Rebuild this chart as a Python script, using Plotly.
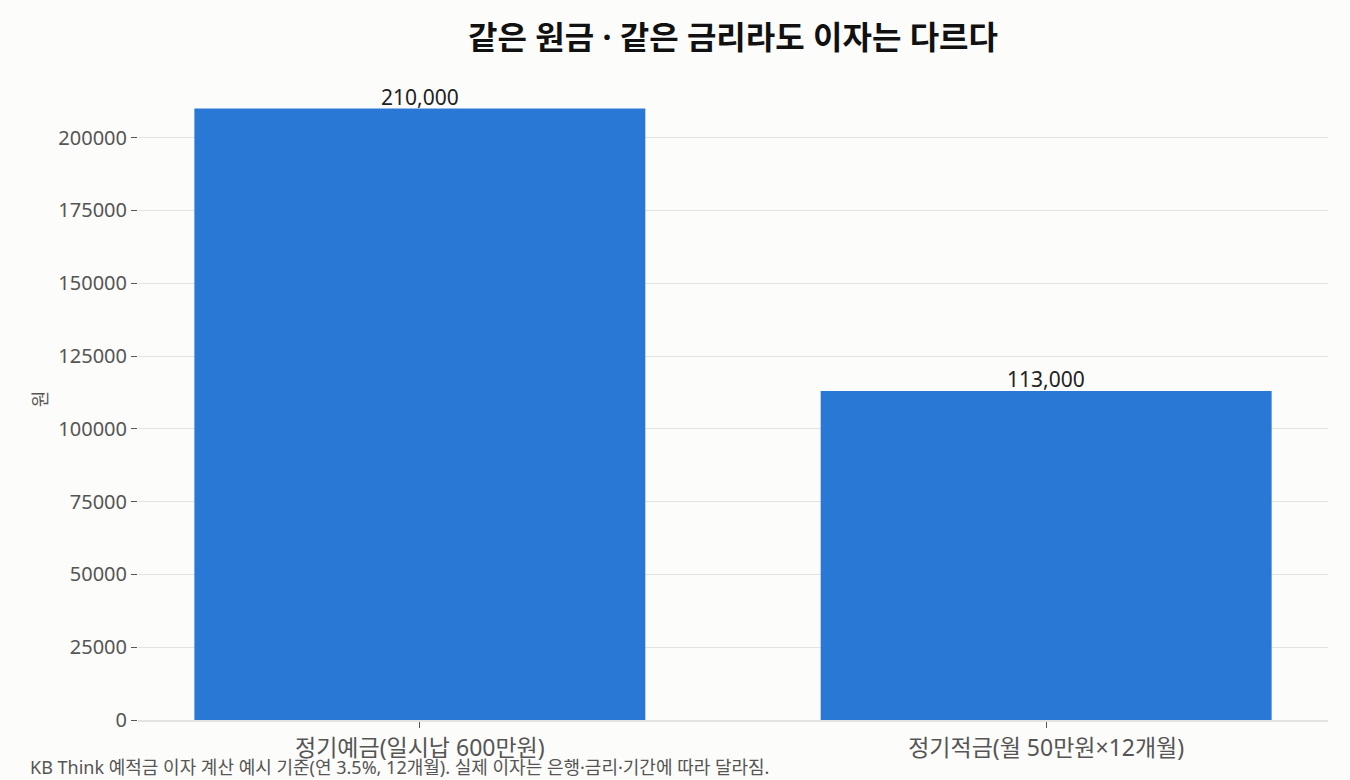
import plotly.graph_objects as go

# data
categories = ["정기예금(일시납 600만원)", "정기적금(월 50만원×12개월)"]
interest = [210000, 113000]
value_labels = ["210,000", "113,000"]

title_text = "같은 원금 · 같은 금리라도 이자는 다르다"
y_title = "원"
source_note = "KB Think 예적금 이자 계산 예시 기준(연 3.5%, 12개월). 실제 이자는 은행·금리·기간에 따라 달라짐."

FONT = "Noto Sans, Noto Sans CJK KR"
BG = "#FCFCFA"

fig = go.Figure()

fig.add_trace(go.Bar(
    x=categories,
    y=interest,
    marker=dict(color="#2A78D6", line=dict(width=0)),
    width=0.72,
))

# value labels sitting right on top of the bars
for cat, val, lab in zip(categories, interest, value_labels):
    fig.add_annotation(
        x=cat, y=val, text=lab,
        xanchor="center", yanchor="bottom",
        yshift=-4,
        showarrow=False,
        font=dict(size=21, color="#222222"),
    )

fig.update_layout(
    width=1350,
    height=780,
    paper_bgcolor=BG,
    plot_bgcolor=BG,
    font=dict(family=FONT, color="#555555"),
    title=dict(
        text="<b>" + title_text + "</b>",
        x=0.5,
        xref="paper",
        xanchor="center",
        y=0.952,
        yanchor="middle",
        font=dict(size=32, color="#111111", family=FONT),
    ),
    margin=dict(l=138, r=22, t=78, b=60),
    showlegend=False,
    bargap=0.28,
)

fig.update_xaxes(
    range=[-0.45, 1.45],
    showgrid=False,
    showline=True,
    linecolor="#E3E3E0",
    linewidth=2,
    ticks="outside",
    tickcolor="#555555",
    ticklen=6,
    tickfont=dict(size=23, color="#555555"),
)

fig.update_yaxes(
    range=[0, 220500],
    tickvals=[0, 25000, 50000, 75000, 100000, 125000, 150000, 175000, 200000],
    tickformat="d",
    showgrid=True,
    gridcolor="#E3E3E0",
    gridwidth=1,
    zeroline=False,
    ticks="outside",
    tickcolor="#555555",
    ticklen=6,
    tickfont=dict(size=20, color="#555555"),
    title=dict(text=y_title, font=dict(size=18, color="#555555"), standoff=6),
)

fig.add_annotation(
    text=source_note,
    xref="paper",
    yref="paper",
    x=-0.0924,
    y=-0.073,
    xanchor="left",
    yanchor="middle",
    showarrow=False,
    font=dict(size=18, color="#555555"),
)

fig.write_html(
    "out.html",
    config={"displayModeBar": False},
    post_script="document.body.style.margin='0';",
)
